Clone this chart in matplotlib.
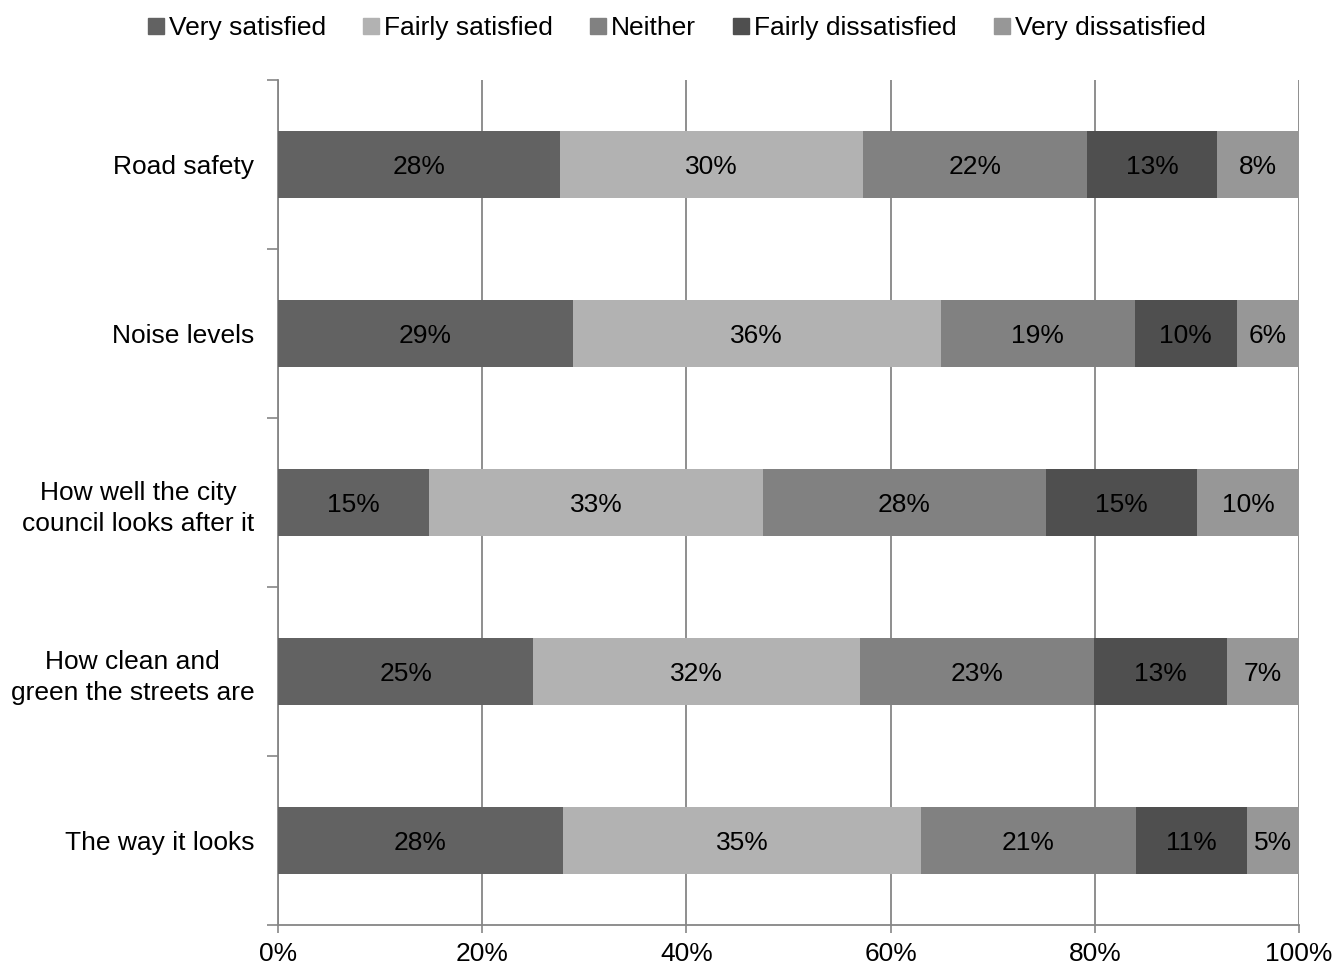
import matplotlib.pyplot as plt
from matplotlib.lines import Line2D
import numpy as np

plt.rcParams['font.family'] = ['Liberation Sans', 'DejaVu Sans']

# categories, top to bottom
categories = ["Road safety", "Noise levels", "How well the city\ncouncil looks after it",
              "How clean and\ngreen the streets are", "The way it looks"]
series = ["Very satisfied", "Fairly satisfied", "Neither", "Fairly dissatisfied", "Very dissatisfied"]

very_sat = [27.6, 28.9, 14.8, 25.0, 27.9]
fairly_sat = [29.7, 36.0, 32.7, 32.0, 35.1]
neither = [21.9, 19.0, 27.7, 22.9, 21.0]
fairly_dis = [12.8, 10.0, 14.8, 13.0, 10.9]
very_dis = [8.0, 6.1, 10.0, 7.1, 5.1]

labels = [
    [28, 29, 15, 25, 28],
    [30, 36, 33, 32, 35],
    [22, 19, 28, 23, 21],
    [13, 10, 15, 13, 11],
    [8, 6, 10, 7, 5],
]

colors = ["#626262", "#b2b2b2", "#818181", "#4f4f4f", "#979797"]
fs = 19

fig = plt.figure(figsize=(13.35, 9.67), dpi=100)
ax = fig.add_axes([278/1335, 1-925/967, (1299-278)/1335, (925-80)/967])

values = [very_sat, fairly_sat, neither, fairly_dis, very_dis]
y = np.arange(len(categories))
left = np.zeros(len(categories))
for vals, col, labs in zip(values, colors, labels):
    vals = np.array(vals)
    ax.barh(y, vals, left=left, height=0.4, color=col, zorder=3)
    for yi, l, v, lab in zip(y, left, vals, labs):
        ax.text(l + v/2, yi, f"{lab}%", ha="center", va="center_baseline",
                fontsize=fs, color="black", zorder=4)
    left += vals

ax.set_xlim(0, 100)
ax.set_ylim(len(categories) - 0.5, -0.5)
ax.set_xticks(np.arange(0, 101, 20))
ax.set_xticklabels([f"{v}%" for v in range(0, 101, 20)], fontsize=fs)
ax.set_yticks(y)
ax.set_yticklabels(categories, fontsize=fs, ha="right", multialignment="center",
                   linespacing=1.35)
ax.tick_params(axis="y", length=0, pad=17)
ax.set_yticks(np.arange(-0.5, len(categories)), minor=True)
ax.tick_params(axis="y", which="minor", length=8, color="#868686", width=1.2)
ax.tick_params(axis="x", length=6, color="#868686", width=1.2, pad=6)

ax.grid(axis="x", color="#868686", linewidth=1.3, zorder=0)
for s in ["top", "right"]:
    ax.spines[s].set_visible(False)
for s in ["left", "bottom"]:
    ax.spines[s].set_color("#868686")
    ax.spines[s].set_linewidth(1.3)

handles = [Line2D([], [], marker="s", linestyle="none", markersize=11,
                  markerfacecolor=c, markeredgecolor=c) for c in colors]
fig.legend(handles, series, loc="center", bbox_to_anchor=(0.506, 0.971), ncol=5,
           frameon=False, fontsize=fs, handletextpad=0.1, columnspacing=1.3,
           handlelength=0.8)

fig.savefig("out.png", dpi=100)
